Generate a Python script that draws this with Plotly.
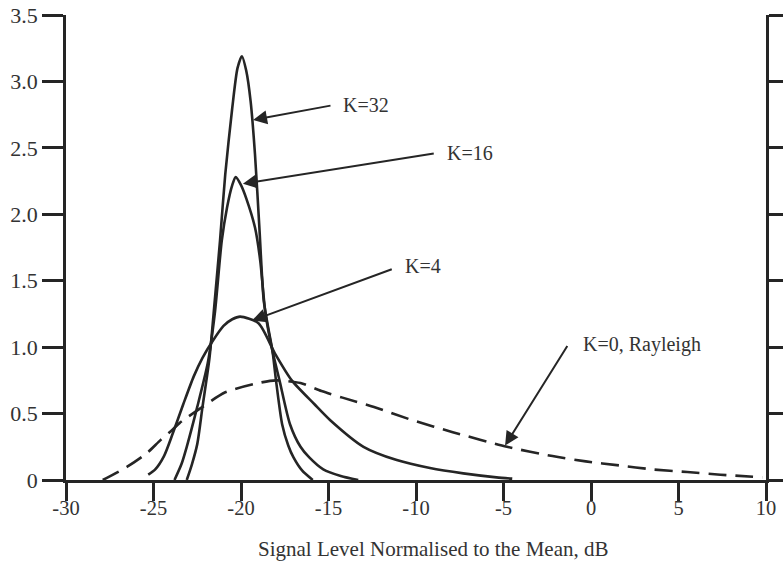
import plotly.graph_objects as go

# ---- data ----
k32_x = [-23.1, -22.8, -22.5, -22.2, -21.8, -21.5, -21.2, -20.9, -20.5, -20.2, -19.95,
         -19.7, -19.45, -19.2, -18.95, -18.7, -18.45, -18.2, -18.0, -17.65, -17.3, -17.0, -16.5, -15.9]
k32_y = [0.0, 0.12, 0.27, 0.55, 0.92, 1.35, 1.8, 2.3, 2.8, 3.1, 3.19,
         3.08, 2.85, 2.45, 1.9, 1.35, 1.15, 0.97, 0.75, 0.42, 0.26, 0.17, 0.07, 0.0]

k16_x = [-23.8, -23.4, -23.1, -22.5, -21.9, -21.5, -21.1, -20.8, -20.5, -20.3, -20.0,
         -19.7, -19.2, -18.9, -18.6, -18.2, -17.8, -17.2, -16.6, -16.1, -15.3, -14.3, -13.3]
k16_y = [0.0, 0.12, 0.25, 0.55, 0.88, 1.25, 1.8, 2.05, 2.22, 2.28, 2.22,
         2.12, 1.9, 1.65, 1.25, 0.97, 0.75, 0.42, 0.25, 0.17, 0.08, 0.03, 0.0]

k4_x = [-25.3, -24.9, -24.4, -23.9, -23.3, -22.7, -22.2, -21.6, -21.0, -20.5, -20.05,
        -19.0, -18.05, -17.1, -15.8, -14.9, -13.0, -11.1, -9.2, -7.3, -5.4, -4.5]
k4_y = [0.04, 0.08, 0.18, 0.35, 0.57, 0.78, 0.92, 1.05, 1.16, 1.21, 1.23,
        1.18, 0.95, 0.75, 0.57, 0.45, 0.25, 0.15, 0.09, 0.05, 0.02, 0.01]

k0_x = [-27.9, -26.5, -25.4, -24.6, -23.9, -23.5, -22.2, -20.9, -19.0, -18.0, -16.6,
        -15.4, -14.2, -12.4, -10.2, -7.9, -4.8, -2.2, -0.3, 1.6, 3.5, 5.5, 7.4, 9.8]
k0_y = [0.0, 0.1, 0.2, 0.3, 0.38, 0.43, 0.55, 0.66, 0.73, 0.75, 0.73,
        0.67, 0.62, 0.55, 0.45, 0.36, 0.25, 0.18, 0.14, 0.11, 0.08, 0.06, 0.04, 0.02]

labels = ["K=32", "K=16", "K=4", "K=0, Rayleigh"]
tip_x = [-19.31, -19.89, -19.37, -4.91]
tip_y = [2.71, 2.23, 1.20, 0.26]
tail_x = [-14.8, -8.9, -11.3, -1.3]
tail_y = [2.82, 2.46, 1.59, 1.02]
label_x = [-14.3, -8.35, -10.75, -0.6]
label_y = [2.82, 2.46, 1.61, 1.02]

x_ticks = [-30, -25, -20, -15, -10, -5, 0, 5, 10]
x_ticktext = ["-30", "-25", "-20", "-15", "-10", "-5", "0", "5", "10"]
y_ticks = [0, 0.5, 1.0, 1.5, 2.0, 2.5, 3.0, 3.5]
y_ticktext = ["0", "0.5", "1.0", "1.5", "2.0", "2.5", "3.0", "3.5"]
x_title = "Signal Level Normalised to the Mean, dB"

LINE = "#252525"
TEXT = "#333333"
FONT = "Liberation Serif"

fig = go.Figure()
for xs, ys in [(k32_x, k32_y), (k16_x, k16_y), (k4_x, k4_y)]:
    fig.add_trace(go.Scatter(x=xs, y=ys, mode="lines",
                             line=dict(color=LINE, width=2.6, shape="spline", smoothing=0.7),
                             showlegend=False, hoverinfo="skip"))
fig.add_trace(go.Scatter(x=k0_x, y=k0_y, mode="lines",
                         line=dict(color=LINE, width=2.6, shape="spline", smoothing=0.7,
                                   dash="18px,9px"),
                         showlegend=False, hoverinfo="skip"))

for i in range(len(labels)):
    fig.add_annotation(x=tip_x[i], y=tip_y[i], ax=tail_x[i], ay=tail_y[i],
                       xref="x", yref="y", axref="x", ayref="y", text="",
                       showarrow=True, arrowhead=2, arrowsize=1.4, arrowwidth=2,
                       arrowcolor=LINE)
    fig.add_annotation(x=label_x[i], y=label_y[i], xref="x", yref="y", text=labels[i],
                       showarrow=False, xanchor="left", yanchor="middle",
                       font=dict(family=FONT, size=20, color=TEXT))

# axis title
fig.add_annotation(x=0.5255, y=-0.149, xref="paper", yref="paper", text=x_title,
                   showarrow=False, xanchor="center", yanchor="middle",
                   font=dict(family=FONT, size=21, color=TEXT))

fig.update_layout(
    width=783, height=573,
    margin=dict(l=66, r=17, t=15, b=93),
    paper_bgcolor="white", plot_bgcolor="white",
    font=dict(family=FONT, size=20, color=TEXT),
    xaxis=dict(range=[-30, 10], tickvals=x_ticks, ticktext=x_ticktext,
               showline=True, linecolor=LINE, linewidth=2.5, automargin=False,
               ticks="outside", ticklen=18, tickwidth=2.5, tickcolor=LINE,
               ticklabelstandoff=-10,
               tickfont=dict(family=FONT, size=20.5, color=TEXT),
               showgrid=False, zeroline=False),
    yaxis=dict(range=[0, 3.5], tickvals=y_ticks, ticktext=y_ticktext,
               showline=True, linecolor=LINE, linewidth=2.5, mirror="ticks", automargin=False,
               ticks="outside", ticklen=21, tickwidth=2.5, tickcolor=LINE,
               tickfont=dict(family=FONT, size=22, color=TEXT),
               showgrid=False, zeroline=False),
)

fig.write_html("out.html")
